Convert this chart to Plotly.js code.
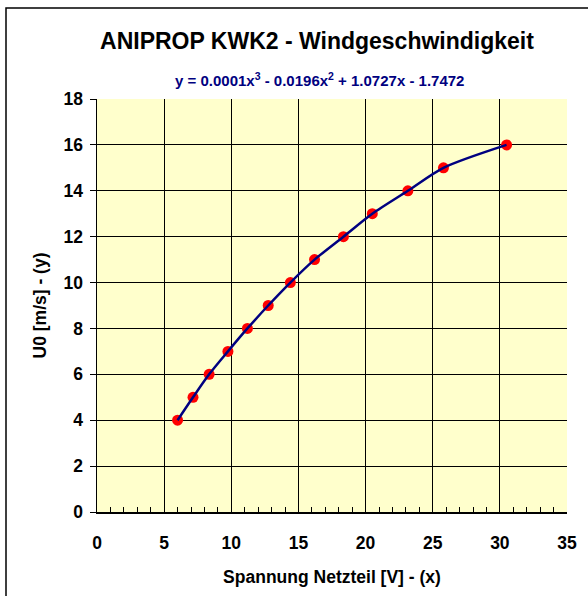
<!DOCTYPE html>
<html>
<head>
<meta charset="utf-8">
<script src="https://cdn.plot.ly/plotly-3.0.1.min.js"></script>
<style>html,body{margin:0;padding:0;background:#fff;}#chart{width:588px;height:596px;}</style>
</head>
<body>
<div id="chart"></div>
<script>
// Data
const voltage = [6.0, 7.15, 8.35, 9.75, 11.2, 12.75, 14.4, 16.2, 18.35, 20.5, 23.15, 25.8, 30.5];
const windSpeed = [4, 5, 6, 7, 8, 9, 10, 11, 12, 13, 14, 15, 16];
const xTicks = [0, 5, 10, 15, 20, 25, 30, 35];
const yTicks = [0, 2, 4, 6, 8, 10, 12, 14, 16, 18];
const chartTitle = 'ANIPROP KWK2 - Windgeschwindigkeit';
const equation = 'y = 0.0001x<sup>3</sup> - 0.0196x<sup>2</sup> + 1.0727x - 1.7472';
const xTitle = 'Spannung Netzteil [V] - (x)';
const yTitle = 'U0 [m/s] - (y)';

const FONT = 'Liberation Sans, Arial, sans-serif';

const traces = [
  {
    x: voltage, y: windSpeed, type: 'scatter', mode: 'markers',
    marker: {color: '#FF0000', size: 11, line: {width: 0}},
    hoverinfo: 'skip', showlegend: false
  },
  {
    x: voltage, y: windSpeed, type: 'scatter', mode: 'lines',
    line: {color: '#000080', width: 2.5, shape: 'spline', smoothing: 0.8},
    hoverinfo: 'skip', showlegend: false
  }
];

const layout = {
  width: 588, height: 596,
  margin: {l: 97, r: 21, t: 99, b: 84, pad: 0},
  paper_bgcolor: '#FFFFFF',
  plot_bgcolor: '#FFFFCC',
  font: {family: FONT, color: '#000000'},
  title: {
    text: '<b>' + chartTitle + '</b>',
    font: {family: FONT, size: 23, color: '#000000'},
    xref: 'container', yref: 'container',
    x: 317 / 588, xanchor: 'center',
    y: 1 - 41 / 596, yanchor: 'middle'
  },
  xaxis: {
    range: [0, 35], tickvals: xTicks, ticktext: xTicks.map(String),
    showgrid: true, gridcolor: '#000000', gridwidth: 1,
    showline: true, linecolor: '#000000', linewidth: 1.5, mirror: false,
    zeroline: false,
    ticks: 'inside', ticklen: 5, tickcolor: '#000000', tickwidth: 1,
    minor: {dtick: 1, tick0: 0, ticks: 'inside', ticklen: 5, tickcolor: '#000000', tickwidth: 1, showgrid: false},
    tickfont: {family: FONT, size: 17.5, color: '#000000', weight: 'bold'},
    ticklabelstandoff: 14,
    title: {text: '<b>' + xTitle + '</b>', font: {family: FONT, size: 17.5, color: '#000000'}, standoff: 19},
    fixedrange: true
  },
  yaxis: {
    range: [0, 18], tickvals: yTicks, ticktext: yTicks.map(String),
    showgrid: true, gridcolor: '#000000', gridwidth: 1,
    showline: true, linecolor: '#000000', linewidth: 1.5,
    zeroline: false,
    ticks: 'outside', ticklen: 6, tickcolor: '#000000', tickwidth: 1,
    tickfont: {family: FONT, size: 17.5, color: '#000000', weight: 'bold'},
    ticklabelstandoff: 3,
    title: {text: '<b>' + yTitle + '</b>', font: {family: FONT, size: 17.5, color: '#000000'}, standoff: 12},
    fixedrange: true
  },
  annotations: [
    {
      text: '<b>' + equation + '</b>',
      xref: 'paper', yref: 'paper',
      x: (319 - 97) / 470, y: (511.7 - 80) / 412.7,
      xanchor: 'center', yanchor: 'middle', showarrow: false,
      font: {family: FONT, size: 15, color: '#000080'}
    }
  ],
  shapes: [
    {
      type: 'rect', xref: 'paper', yref: 'paper',
      x0: (6 - 97) / 470, x1: 3, y0: -3, y1: (511.7 - 8) / 412.7,
      line: {color: '#000000', width: 1.5}, fillcolor: 'rgba(0,0,0,0)', layer: 'below'
    }
  ]
};

Plotly.newPlot('chart', traces, layout, {staticPlot: true, displayModeBar: false});
</script>
</body>
</html>
